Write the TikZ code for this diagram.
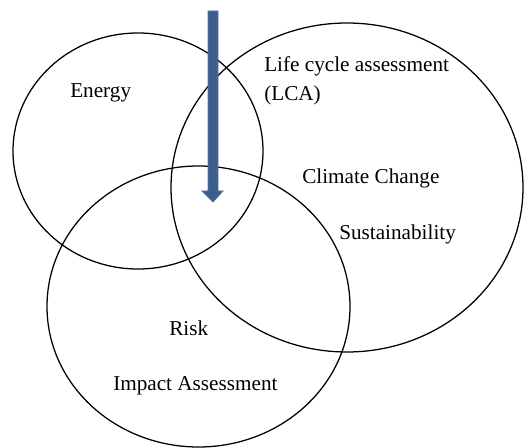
\documentclass[tikz,border=0pt]{standalone}
\usepackage{fontspec}
\setmainfont{Liberation Serif}
\usepackage{xcolor}
\usepackage{tikz}
\usetikzlibrary{positioning}
\definecolor{arrowblue}{HTML}{3B5E8D}
\definecolor{arrowedge}{HTML}{5476A3}

\begin{document}
\begin{tikzpicture}[
    x=0.75pt, y=-0.75pt,
    ring/.style={draw=black, line width=0.95pt},
    term/.style={anchor=base west, inner sep=0pt, font=\fontsize{15.9}{22}\selectfont},
    flow/.style={fill=arrowblue, draw=arrowedge, line width=0.6pt}
]
\useasboundingbox (0,0) rectangle (524,448);

% the three overlapping fields
\coordinate (energy) at (138,151);
\coordinate (lca) at (347,187.5);
\coordinate (risk) at (198.5,306.5);
\draw[ring] (energy) ellipse [x radius=125, y radius=118];
\draw[ring] (lca) ellipse [x radius=176, y radius=164.5];
\draw[ring] (risk) ellipse [x radius=151.5, y radius=140.5];

\node[term] (tEnergy) at (70,98) {Energy};
\node[term, align=left] (tLca) at (264,101) {Life cycle assessment\\(LCA)};
\node[term] (tClimate) at (302,183.5) {Climate Change};
\node[term] (tSustain) at (339,240) {Sustainability};
\node[term] (tRisk) at (169,335.5) {Risk};
\node[term] (tImpact) at (113,390.5) {Impact Assessment};

% block arrow down into the overlap
\draw[flow] (208,11) -- (218,11) -- (218,191) -- (223,191) -- (213,202)
    -- (202,191) -- (208,191) -- cycle;
\end{tikzpicture}
\end{document}
